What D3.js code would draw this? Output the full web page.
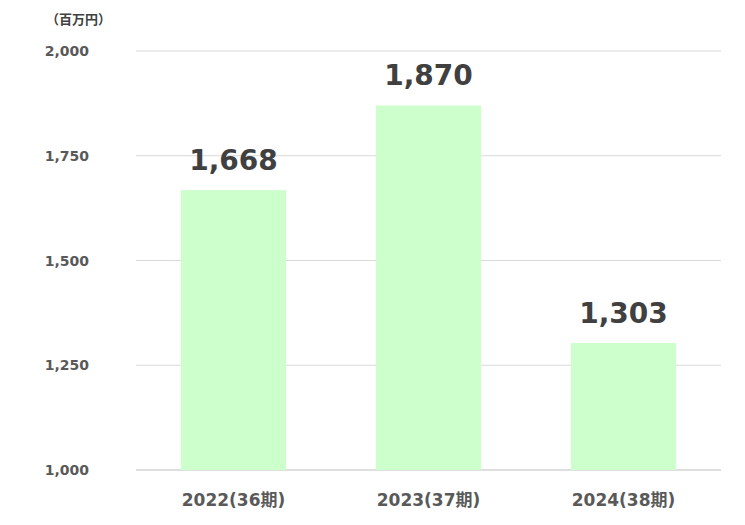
<!DOCTYPE html>
<html><head><meta charset="utf-8">
<script src="https://cdn.jsdelivr.net/npm/d3@7"></script>
<style>body{margin:0;background:#fff}</style></head>
<body><svg id="c" width="745" height="525"></svg>
<script>
const categories=["2022(36期)","2023(37期)","2024(38期)"];
const values=[1668,1870,1303];
const ticks=[1000,1250,1500,1750,2000];
const svg=d3.select("#c");
const font="Verdana, 'DejaVu Sans', 'Noto Sans CJK JP', sans-serif";
const x=d3.scaleBand().domain(categories).range([136,721]).paddingInner(0.46).paddingOuter(0.23);
const y=d3.scaleLinear().domain([1000,2000]).range([470,51]);
svg.append("g").selectAll("line").data(ticks).join("line")
 .attr("x1",136).attr("x2",721).attr("y1",d=>y(d)).attr("y2",d=>y(d))
 .attr("stroke",d=>d===1000?"#bfbfbf":"#d9d9d9").attr("stroke-width",1);
svg.append("g").selectAll("text").data(ticks).join("text")
 .attr("x",89).attr("y",d=>y(d)+5).attr("text-anchor","end")
 .attr("font-family",font).attr("font-size",14).attr("font-weight","bold").attr("fill","#595959")
 .text(d3.format(","));
svg.append("g").selectAll("rect").data(values).join("rect")
 .attr("x",(d,i)=>x(categories[i])).attr("width",x.bandwidth())
 .attr("y",d=>y(d)).attr("height",d=>y(1000)-y(d)).attr("fill","#ccffcc");
svg.append("g").selectAll("text").data(values).join("text")
 .attr("x",(d,i)=>x(categories[i])+x.bandwidth()/2).attr("y",d=>y(d)-20).attr("text-anchor","middle")
 .attr("font-family",font).attr("font-size",28).attr("font-weight","bold").attr("fill","#404040")
 .text(d3.format(","));
svg.append("g").selectAll("text").data(categories).join("text")
 .attr("x",d=>x(d)+x.bandwidth()/2).attr("y",506).attr("text-anchor","middle")
 .attr("font-family",font).attr("font-size",17).attr("font-weight","bold").attr("fill","#595959")
 .text(d=>d);
svg.append("text").attr("x",46).attr("y",24).attr("font-family",font).attr("font-size",13)
 .attr("font-weight","bold").attr("fill","#404040").text("（百万円）");
</script></body></html>
